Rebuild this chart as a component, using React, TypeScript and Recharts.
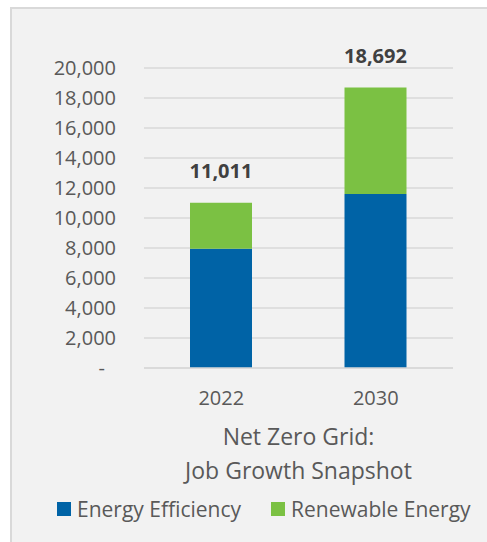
import React from "react";
import { BarChart, Bar, XAxis, YAxis, CartesianGrid, Legend, LabelList } from "recharts";

const years = ["2022", "2030"];
const energyEfficiency = [7950, 11600];
const renewableEnergy = [3061, 7092];
const totals = [11011, 18692];
const yTicks = [0, 2000, 4000, 6000, 8000, 10000, 12000, 14000, 16000, 18000, 20000];
const seriesNames = ["Energy Efficiency", "Renewable Energy"];
const titleLines = ["Net Zero Grid:", "Job Growth Snapshot"];

const data = years.map((y, i) => ({
  year: y,
  ee: energyEfficiency[i],
  re: renewableEnergy[i],
  total: totals[i],
}));

const FONT = "'Open Sans', 'Noto Sans', sans-serif";
const BLUE = "#0063A6";
const GREEN = "#7BC143";
const TXT = "#595959";

const YTick = (props: any) => {
  const { x, y, payload } = props;
  const v = payload.value;
  if (v === 0) {
    return (
      <text x={x - 11} y={y} dy="0.35em" textAnchor="end" fill={TXT} fontSize={20} fontFamily={FONT}>
        -
      </text>
    );
  }
  return (
    <text x={x} y={y} dy="0.35em" textAnchor="end" fill={TXT} fontSize={20} fontFamily={FONT}>
      {v.toLocaleString("en-US")}
    </text>
  );
};

const TitleLabel = (props: any) => {
  const vb = props.viewBox || {};
  const cx = vb.x + vb.width / 2;
  const base = vb.y;
  return (
    <text textAnchor="middle" fill={TXT} fontSize={23} fontFamily={FONT}>
      <tspan x={cx} y={base + 77}>{titleLines[0]}</tspan>
      <tspan x={cx} y={base + 111}>{titleLines[1]}</tspan>
    </text>
  );
};

const TotalLabel = (props: any) => {
  const { x, y, width, index } = props;
  return (
    <text
      x={x + width / 2}
      y={y - 32}
      dy="0.35em"
      textAnchor="middle"
      fill="#404040"
      fontSize={20}
      fontWeight="bold"
      fontFamily={FONT}
    >
      {totals[index].toLocaleString("en-US")}
    </text>
  );
};

const LegendContent = () => {
  const colors = [BLUE, GREEN];
  return (
    <div
      style={{
        display: "flex",
        alignItems: "center",
        paddingLeft: 45,
        fontFamily: FONT,
        fontSize: 21,
        color: TXT,
        lineHeight: "28px",
        whiteSpace: "nowrap",
        width: 475,
        boxSizing: "border-box",
      }}
    >
      {seriesNames.map((n, i) => (
        <div key={n} style={{ display: "flex", alignItems: "center", marginRight: 30, flexShrink: 0 }}>
          <span style={{ display: "inline-block", width: 14, height: 14, background: colors[i], marginRight: 6, flexShrink: 0 }} />
          <span style={{ whiteSpace: "nowrap" }}>{n}</span>
        </div>
      ))}
    </div>
  );
};

export default function App() {
  return (
    <div
      style={{
        position: "absolute",
        left: 10,
        top: 7,
        width: 490,
        height: 540,
        border: "2px solid #d9d9d9",
        background: "#f2f2f2",
        boxSizing: "border-box",
        overflow: "hidden",
      }}
    >
      <BarChart
        width={475}
        height={530}
        data={data}
        margin={{ top: 59, right: 34, left: 0, bottom: 103 }}
        style={{ fontFamily: FONT }}
      >
        <CartesianGrid vertical={false} stroke="#d9d9d9" strokeWidth={1.5} />
        <XAxis
          dataKey="year"
          axisLine={{ stroke: "#d9d9d9", strokeWidth: 1.5 }}
          tickLine={false}
          tickSize={0}
          tickMargin={23}
          tick={{ fill: TXT, fontSize: 20, fontFamily: FONT }}
          height={40}
          label={{ content: TitleLabel }}
        />
        <YAxis
          width={132}
          domain={[0, 20000]}
          ticks={yTicks}
          axisLine={false}
          tickLine={false}
          tickSize={0}
          tickMargin={28}
          tick={<YTick />}
          interval={0}
        />
        <Legend
          content={<LegendContent />}
          wrapperStyle={{ position: "absolute", left: 0, top: 486, width: 475, height: 28 }}
        />
        <Bar dataKey="ee" name={seriesNames[0]} stackId="a" fill={BLUE} barSize={62} isAnimationActive={false} />
        <Bar dataKey="re" name={seriesNames[1]} stackId="a" fill={GREEN} barSize={62} isAnimationActive={false}>
          <LabelList dataKey="total" content={<TotalLabel />} />
        </Bar>
      </BarChart>
    </div>
  );
}
